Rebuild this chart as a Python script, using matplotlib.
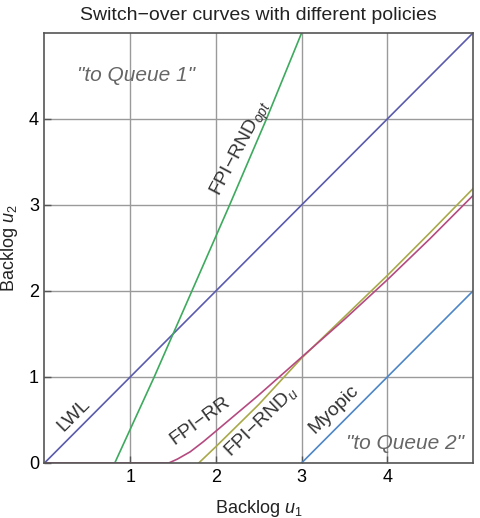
import matplotlib
matplotlib.use("Agg")
import matplotlib.pyplot as plt

plt.rcParams["font.family"] = ["Liberation Sans", "DejaVu Sans"]
plt.rcParams["mathtext.fontset"] = "custom"
plt.rcParams["mathtext.rm"] = "Liberation Sans"
plt.rcParams["mathtext.it"] = "Liberation Sans:italic"

# curves
lwl_x = [0, 5]
lwl_y = [0, 5]

opt_x = [0.82, 1.28, 1.72, 2.16, 2.59, 3.0]
opt_y = [0, 1, 2, 3, 4, 5]

rr_x = [0, 1.45, 1.55, 1.7, 1.85, 2.0, 2.25, 2.5, 2.75, 3.0, 3.5, 4.0, 4.5, 5.0]
rr_y = [0, 0, 0.045, 0.13, 0.245, 0.37, 0.58, 0.79, 1.01, 1.23, 1.67, 2.13, 2.61, 3.11]

rndu_x = [1.8, 2.0, 2.5, 3.0, 3.5, 4.0, 4.5, 5.0]
rndu_y = [0, 0.19, 0.68, 1.22, 1.70, 2.18, 2.68, 3.19]

myo_x = [3, 5]
myo_y = [0, 2]

fig = plt.figure(figsize=(4.8, 5.18), dpi=100)
ax = fig.add_axes([0.0927, 0.1062, 0.8927, 0.8301])

lw = 1.2
ax.plot(lwl_x, lwl_y, color="#5a5aae", lw=lw)
ax.plot(opt_x, opt_y, color="#3daa5e", lw=lw)
ax.plot(rndu_x, rndu_y, color="#a9a94a", lw=lw)
ax.plot(rr_x, rr_y, color="#b54a80", lw=lw)
ax.plot(myo_x, myo_y, color="#4d86c8", lw=lw)

ax.set_xlim(0, 5)
ax.set_ylim(0, 5)
ax.set_xticks([1, 2, 3, 4])
ax.set_yticks([0, 1, 2, 3, 4])
ax.grid(True, color="#9a9a9a", lw=1.0)
ax.set_axisbelow(True)
ax.tick_params(direction="in", length=5, width=1, color="#555555",
               labelsize=13, pad=4)
for s in ax.spines.values():
    s.set_color("#555555")
    s.set_linewidth(1.2)

ax.set_xlabel("Backlog $u_1$", fontsize=13, color="#222222", labelpad=9)
ax.set_ylabel("Backlog $u_2$", fontsize=13, color="#222222", labelpad=6)
ax.set_title("Switch\u2212over curves with different policies", fontsize=14,
             color="#222222", pad=9)

tc = "#333333"
ax.text(1.07, 4.51, '"to Queue 1"', style="italic", fontsize=15, color="#666666",
        ha="center", va="center")
ax.text(4.21, 0.23, '"to Queue 2"', style="italic", fontsize=15, color="#666666",
        ha="center", va="center")
ax.text(0.34, 0.56, "LWL", rotation=45, fontsize=14, color=tc,
        ha="center", va="center", rotation_mode="anchor")
ax.text(1.82, 0.49, "FPI\u2212RR", rotation=36, fontsize=14, color=tc,
        ha="center", va="center", rotation_mode="anchor")
ax.text(2.52, 0.49, "FPI\u2212RND$_u$", rotation=44, fontsize=14, color=tc,
        ha="center", va="center", rotation_mode="anchor")
ax.text(3.37, 0.62, "Myopic", rotation=44, fontsize=14, color=tc,
        ha="center", va="center", rotation_mode="anchor")
ax.text(2.3, 3.65, "FPI\u2212RND$_{opt}$", rotation=62, fontsize=14, color=tc,
        ha="center", va="center", rotation_mode="anchor")

fig.savefig("out.png", dpi=100)
